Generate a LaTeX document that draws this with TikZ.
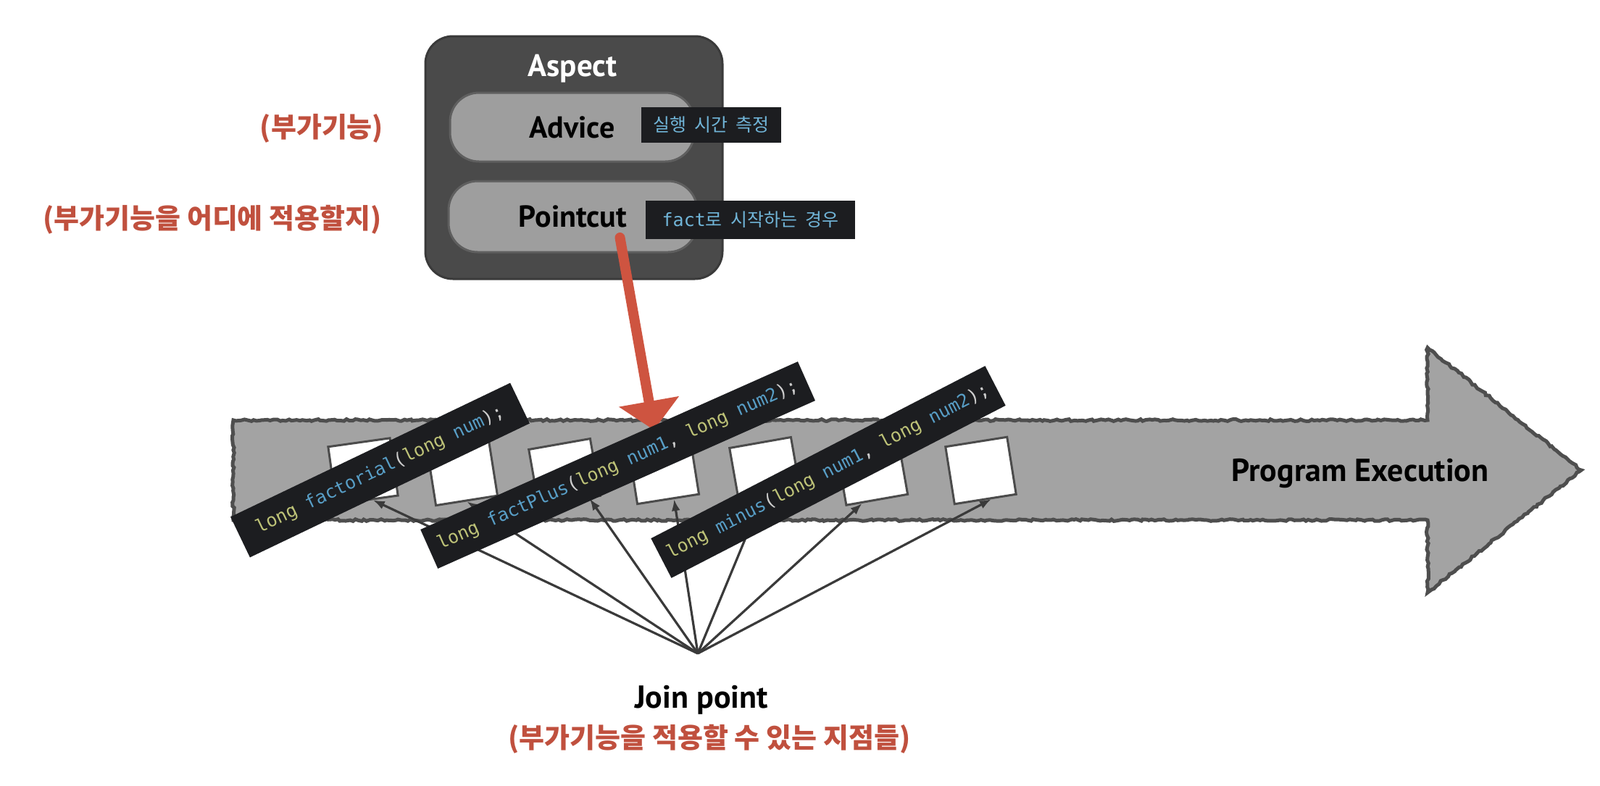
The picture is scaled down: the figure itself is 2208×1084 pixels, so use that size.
\documentclass[tikz,border=0pt]{standalone}
\usepackage{fontspec}
\setmainfont{PT Sans}
\newfontfamily\codefont{DejaVu Sans Mono}
\newfontfamily\krfont{Noto Sans CJK KR}
\newfontfamily\latfont{PT Sans}
\usetikzlibrary{arrows.meta,decorations.pathmorphing}

\definecolor{redtxt}{RGB}{192,80,62}
\definecolor{redarrow}{RGB}{206,84,64}
\definecolor{aspectfill}{RGB}{74,74,74}
\definecolor{aspectline}{RGB}{58,58,58}
\definecolor{pillfill}{RGB}{158,158,158}
\definecolor{pillline}{RGB}{95,95,95}
\definecolor{arrowfill}{RGB}{163,163,163}
\definecolor{arrowline}{RGB}{78,78,78}
\definecolor{boxline}{RGB}{75,75,75}
\definecolor{conngray}{RGB}{58,58,58}
\definecolor{codebg}{RGB}{28,29,32}
\definecolor{codeyel}{RGB}{190,195,120}
\definecolor{codeblue}{RGB}{88,158,198}
\definecolor{codegray}{RGB}{205,205,205}
\definecolor{lblblue}{RGB}{112,180,215}

\newcommand{\kw}[1]{\textcolor{codeyel}{#1}}
\newcommand{\fn}[1]{\textcolor{codeblue}{#1}}
\newcommand{\wsp}{\hspace{0.45em}}

\pgfdeclarelayer{back}
\pgfdeclarelayer{mid}
\pgfsetlayers{back,mid,main}

\tikzset{
  rough/.style={decorate, decoration={random steps, segment length=4pt, amplitude=1.4pt}},
  aspectbox/.style={fill=aspectfill, draw=aspectline, line width=3pt, rounded corners=38pt,
    minimum width=410, minimum height=335, inner sep=0},
  pill/.style={fill=pillfill, draw=pillline, line width=3pt, rounded corners=40pt,
    inner sep=0, font=\latfont\bfseries\fontsize{42pt}{42pt}\selectfont, text=black},
  sidelbl/.style={fill=codebg, inner sep=0, text=lblblue},
  redlbl/.style={font=\krfont\bfseries\fontsize{38pt}{38pt}\selectfont, text=redtxt, inner sep=0},
  blacklbl/.style={font=\latfont\bfseries\fontsize{43pt}{43pt}\selectfont, text=black, inner sep=0},
  jbox/.style={draw=boxline, line width=3pt, fill=white, minimum width=86, minimum height=80, inner sep=0},
  conn/.style={draw=conngray, line width=3.2pt, -{Latex[length=16pt,width=12pt]}},
  codelbl/.style={fill=codebg, inner sep=0, text=codegray,
    font=\codefont\fontsize{25pt}{30pt}\selectfont},
  redarr/.style={draw=redarrow, line width=14pt, line cap=round,
    -{Triangle[length=40pt,width=82pt]}, shorten >=-6pt}
}

\begin{document}
\begin{tikzpicture}[x=1pt,y=-1pt]
\useasboundingbox (0,0) rectangle (2208,1084);

\begin{pgfonlayer}{back}
  \fill[white] (0,0) rectangle (2208,1084);
  % Aspect
  \node[aspectbox] (aspect) at (792,217.5) {};
  \node[pill, minimum width=337, minimum height=95] (adv) at (789.5,175.5) {Advice};
  \node[pill, minimum width=343, minimum height=98] (pc) at (790.5,299) {Pointcut};
  % program execution arrow
  \draw[rough, fill=arrowfill, draw=arrowline, line width=5pt]
    (322,580) -- (1970,580) -- (1970,480) -- (2182,649) -- (1970,818) -- (1970,718) -- (322,718) -- cycle;
  % join point boxes
  \node[jbox, rotate=8]  (b1) at (501,650.4) {};
  \node[jbox, rotate=9]  (b2) at (637.8,651.4) {};
  \node[jbox, rotate=10] (b3) at (779,652.4) {};
  \node[jbox, rotate=9]  (b4) at (915.8,649.4) {};
  \node[jbox, rotate=10] (b5) at (1056,650.4) {};
  \node[jbox, rotate=10] (b6) at (1203.3,650.4) {};
  \node[jbox, rotate=9]  (b7) at (1353.5,649.5) {};
  \coordinate (jp) at (963,902);
  \foreach \b/\a in {b1/-79, b2/-90, b3/-56, b4/-79, b5/-109, b6/-117, b7/-79}
    \draw[conn] (jp) -- (\b.\a);
\end{pgfonlayer}

% titles and side notes
\node[anchor=base, font=\latfont\bfseries\fontsize{43pt}{43pt}\selectfont, text=white, inner sep=0] (asptitle) at (790,105) {Aspect};
\node[sidelbl, minimum width=193, minimum height=49, font=\krfont\fontsize{25pt}{25pt}\selectfont] (advnote) at (981.5,172.5) {실행\wsp 시간\wsp 측정};
\node[sidelbl, minimum width=289, minimum height=53, font=\krfont\fontsize{25pt}{25pt}\selectfont] (pcnote) at (1035.5,303.5) {{\codefont fact}로\wsp 시작하는\wsp 경우};

\node[redlbl] (advred) at (444,177) {(부가기능)};
\node[redlbl] (pcred) at (293,303) {(부가기능을 어디에 적용할지)};

% code labels
\node[codelbl, rotate=25.6, minimum width=428, minimum height=62] (l1) at (524.5,649)
  {\kw{long} \fn{factorial}(\kw{long} \fn{num});};
\node[codelbl, rotate=24, minimum width=570, minimum height=59] (l2) at (852.6,642)
  {\kw{long} \fn{factPlus}(\kw{long} \fn{num1}, \kw{long} \fn{num2});};
\node[codelbl, rotate=27.3, minimum width=519, minimum height=61.5] (l3) at (1143,651.5)
  {\kw{long} \fn{minus}(\kw{long} \fn{num1}, \kw{long} \fn{num2});};

% red pointcut arrow
\begin{pgfonlayer}{mid}
  \draw[redarr] ([xshift=65pt,yshift=-29pt]pc.center) -- (l2.24);
\end{pgfonlayer}

\node[blacklbl, anchor=base, font=\latfont\bfseries\fontsize{44pt}{44pt}\selectfont] (pe) at (1877,664) {Program Execution};
\node[blacklbl, anchor=base, font=\latfont\bfseries\fontsize{44pt}{44pt}\selectfont] (jpt) at (968,977) {Join point};
\node[redlbl] (jpred) at (979,1020) {(부가기능을 적용할 수 있는 지점들)};
\end{tikzpicture}
\end{document}
